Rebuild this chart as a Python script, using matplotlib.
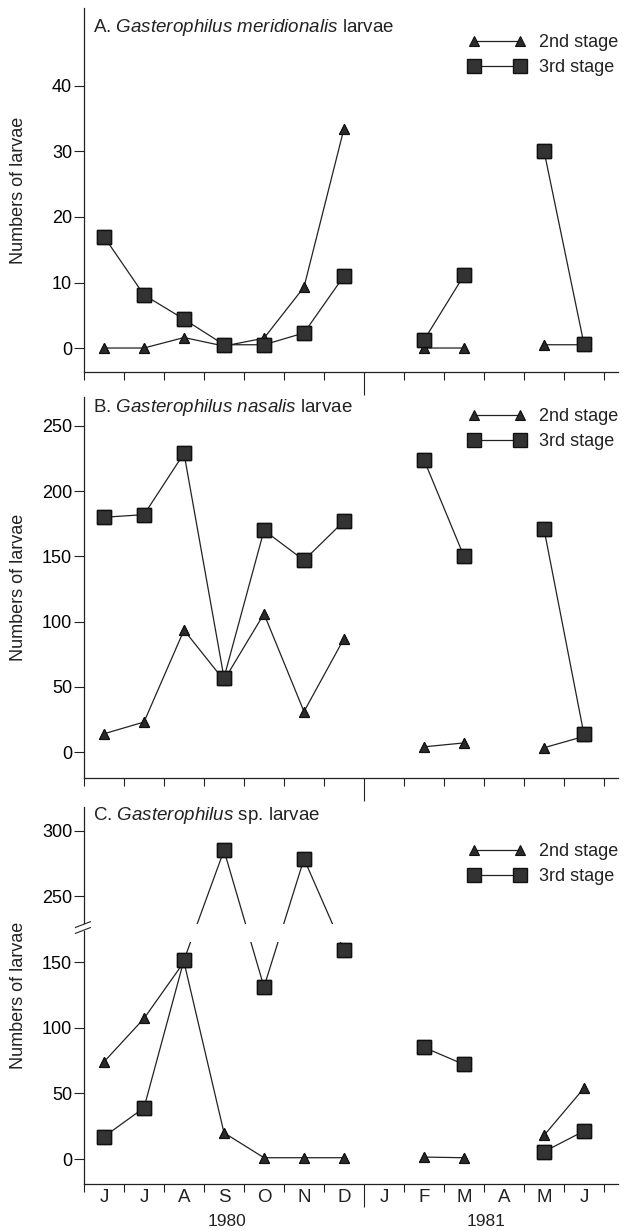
import numpy as np
import matplotlib
matplotlib.use('Agg')
import matplotlib.pyplot as plt
import matplotlib.transforms as mtransforms

plt.rcParams['font.family'] = ['Liberation Sans', 'DejaVu Sans']
plt.rcParams['mathtext.fontset'] = 'custom'
plt.rcParams['mathtext.rm'] = 'Liberation Sans'
plt.rcParams['mathtext.it'] = 'Liberation Sans:italic'

nan = np.nan
months = ['J', 'J', 'A', 'S', 'O', 'N', 'D', 'J', 'F', 'M', 'A', 'M', 'J']
years = ['1980', '1981']

# A. G. meridionalis
a_2nd = [0, 0, 1.6, 0.3, 1.5, 9.3, 33.5, nan, 0, 0, nan, 0.5, 0.5]
a_3rd = [17, 8.1, 4.4, 0.5, 0.5, 2.3, 11, nan, 1.2, 11.1, nan, 30.1, 0.6]
# B. G. nasalis
b_2nd = [14, 23, 93.5, 55, 106, 31, 87, nan, 4, 7, nan, 3.3, 12]
b_3rd = [180, 182, 229, 57, 170, 147, 177, nan, 224, 150, nan, 171, 13.5]
# C. Gasterophilus sp.
c_2nd = [74, 107, 150, 20, 1, 1, 1, nan, 1.5, 1, nan, 18, 54]
c_3rd = [17, 39, 151.5, 285, 131, 278.5, 159, nan, 85, 72, nan, 5.6, 21.3]

titles = [r'A. $\mathit{Gasterophilus\ meridionalis}$ larvae',
          r'B. $\mathit{Gasterophilus\ nasalis}$ larvae',
          r'C. $\mathit{Gasterophilus}$ sp. larvae']

W, H = 636, 1231
fig = plt.figure(figsize=(W / 100, H / 100), dpi=100)
fig.patch.set_facecolor('white')

ink = '#222222'
FS = 13

# panel boxes in pixels: (top, bottom)
boxes = [(8, 372), (397, 778), (807, 1184)]
left_px, right_px = 84, 618


def brk(v):
    # y-axis break in panel C: everything above 200 is shifted down by 50
    v = np.asarray(v, dtype=float)
    return np.where(v > 200, v - 50, v)


def make_ax(top, bot):
    return fig.add_axes([left_px / W, 1 - bot / H, (right_px - left_px) / W, (bot - top) / H])


axes = [make_ax(*b) for b in boxes]
x = np.arange(13) + 0.5

series = [(a_2nd, a_3rd), (b_2nd, b_3rd), (brk(c_2nd), brk(c_3rd))]
ylims = [(-3.66, 51.9), (-19.9, 272.2), (-19, 268)]
legend_off = [36, 21, 46]
title_off = [19, 10, 8]

tri = dict(marker='^', ms=7.5, mfc='#2a2a2a', mec='#111111', mew=0.8)
sq = dict(marker='s', ms=9.5, mfc='#333333', mec='#111111', mew=1.0)

for i, ax in enumerate(axes):
    s2, s3 = series[i]
    # lines (with markers for the legend) underneath, markers again on top
    ax.plot(x, s2, color=ink, lw=0.9, label='2nd stage', zorder=2, **tri)
    ax.plot(x, s3, color=ink, lw=0.9, label='3rd stage', zorder=2, **sq)
    ax.plot(x, s2, ls='none', zorder=3, **tri)
    ax.plot(x, s3, ls='none', zorder=4, **sq)
    ax.set_xlim(0, 13.35)
    ax.set_ylim(*ylims[i])
    for sp in ['top', 'right']:
        ax.spines[sp].set_visible(False)
    for sp in ['left', 'bottom']:
        ax.spines[sp].set_color(ink)
        ax.spines[sp].set_linewidth(0.9)

    ax.set_xticks(np.arange(14))
    ax.set_xticklabels([])
    ax.tick_params(axis='x', which='major', direction='out', length=6, width=0.8, color=ink)
    ax.xaxis.get_major_ticks()[7].tick1line.set_markersize(16.5)
    ax.tick_params(axis='y', direction='out', length=7, width=0.8, color=ink,
                   labelsize=FS, pad=1.5)

    ax.set_ylabel('Numbers of larvae', fontsize=13, color=ink)
    ax.yaxis.set_label_coords(-0.107, 0.5)

    h = boxes[i][1] - boxes[i][0]
    ax.text(9 / (right_px - left_px), 1 - title_off[i] / h, titles[i], transform=ax.transAxes,
            fontsize=13.5, va='center', ha='left', color=ink)

    leg = ax.legend(loc='upper left',
                    bbox_to_anchor=((469 - left_px) / (right_px - left_px), 1 - (legend_off[i] - 10) / h),
                    frameon=False, numpoints=2, handlelength=3.1, handletextpad=0.75,
                    labelspacing=0.47, borderpad=0, borderaxespad=0, fontsize=FS,
                    markerscale=1.0)
    for t in leg.get_texts():
        t.set_color(ink)

axes[0].set_yticks([0, 10, 20, 30, 40])
axes[1].set_yticks([0, 50, 100, 150, 200, 250])
axes[2].set_yticks([0, 50, 100, 150, 200, 250])
axes[2].set_yticklabels(['0', '50', '100', '150', '250', '300'])

# panel C: month labels, years, axis break
axc = axes[2]
axc.set_xticks(x, minor=True)
axc.set_xticklabels(months, minor=True, fontsize=13.5, color=ink)
axc.tick_params(axis='x', which='minor', length=0, pad=3.5)
trans = axc.get_xaxis_transform()
axc.text(3.57, -0.1, years[0], transform=trans, ha='center', va='center', fontsize=12.5, color=ink)
axc.text(10.05, -0.1, years[1], transform=trans, ha='center', va='center', fontsize=12.5, color=ink)

# white band interrupts the lines at the break
axc.axhspan(165, 179, color='white', lw=0, zorder=2.2)
btr = mtransforms.blended_transform_factory(axc.transAxes, axc.transData)
axc.plot([0, 0], [175, 178], color='white', lw=2, transform=btr, clip_on=False, zorder=5)
for yb in (174, 178.5):
    axc.plot([-0.016, 0.012], [yb - 2.2, yb + 2.2], color=ink, lw=0.8, transform=btr,
             clip_on=False, zorder=6)

fig.savefig('out.png', dpi=100, facecolor='white')
